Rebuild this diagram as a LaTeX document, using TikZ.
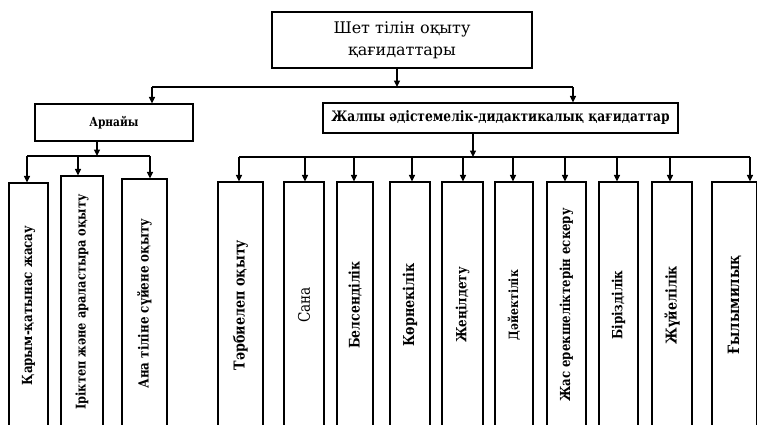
\documentclass[tikz,border=0pt]{standalone}
\usepackage{fontspec}
\usepackage{graphicx}
\setmainfont{DejaVu Serif}
\newfontfamily\condfont[FakeStretch=0.85]{DejaVu Serif}
\usetikzlibrary{arrows.meta}
\tikzset{
  nd_top/.style={
    rectangle, draw, line width=1.1pt,
    minimum width=260pt, minimum height=56pt,
    align=center, font=\fontsize{16}{22}\selectfont},
  nd_grp/.style={
    rectangle, draw, line width=1.1pt, inner sep=0pt},
  nd_col/.style={
    rectangle, draw, line width=1.1pt, inner sep=0pt,
    minimum height=246pt},
  fsz/.style={font=\condfont\bfseries\fontsize{#1}{#1}\selectfont},
  arr/.style={-{Triangle[length=6.5pt,width=6pt]},line width=1.1pt},
  bus/.style={line width=1.1pt},
}

\begin{document}
\begin{tikzpicture}[x=1pt,y=-1pt]
\useasboundingbox (0,0) rectangle (757,424);

\node[nd_top] at (402,40) (T){Шет тілін оқыту\\қағидаттары};
\node[nd_grp,fsz=12.5,minimum width=158pt,minimum height=37pt] at (114,122.5) (A){Арнайы};
\node[nd_grp,fsz=14.4,minimum width=355pt,minimum height=30pt] at (500.5,118) (G){Жалпы әдістемелік-дидактикалық қағидаттар};

%% junctions
\coordinate (jT) at (397,87);
\coordinate (jA) at (152,87);
\coordinate (jG) at (573,87);
\coordinate (jL) at (97,156);
\coordinate (jR) at (473,157);

%% left column
\node[nd_col,fsz=13.9,minimum width=39pt,minimum height=245pt] at (28.5,305.5) (l1){\rotatebox{90}{Қарым-қатынас жасау}};
\node[nd_col,fsz=13.4,minimum width=42pt,minimum height=252pt] at (82,302)    (l2){\rotatebox{90}{Іріктеп және араластыра оқыту}};
\node[nd_col,fsz=14,minimum width=45pt,minimum height=249pt] at (144.5,303.5)  (l3){\rotatebox{90}{Ана тіліне сүйене оқыту}};

%% right column
\node[nd_col,fsz=15,minimum width=45pt] at (240.5,305) (r1){\rotatebox{90}{Тәрбиелеп оқыту}};
\node[nd_col,font=\condfont\fontsize{16}{16}\selectfont,minimum width=40pt] at (304,305) (r2){\rotatebox{90}{Сана}};
\node[nd_col,fsz=14.6,minimum width=36pt] at (355,305)   (r3){\rotatebox{90}{Белсенділік}};
\node[nd_col,fsz=15,minimum width=40pt] at (410,305)     (r4){\rotatebox{90}{Көрнекілік}};
\node[nd_col,fsz=14,minimum width=41pt] at (462.5,305)   (r5){\rotatebox{90}{Жеңілдету}};
\node[nd_col,fsz=12.8,minimum width=38pt] at (514,305)   (r6){\rotatebox{90}{Дәйектілік}};
\node[nd_col,fsz=13.8,minimum width=39pt] at (566.5,305) (r7){\rotatebox{90}{Жас ерекшеліктерін ескеру}};
\node[nd_col,fsz=14,minimum width=39pt] at (618.5,305)   (r8){\rotatebox{90}{Бірізділік}};
\node[nd_col,fsz=14.9,minimum width=40pt] at (672,305)   (r9){\rotatebox{90}{Жүйелілік}};
\node[nd_col,fsz=15.6,minimum width=45pt] at (734.5,305) (r10){\rotatebox{90}{Ғылымилық}};

%% top level
\draw[arr] (T.south -| jT)--(jT);
\draw[bus] (jA)--(jG);
\draw[arr] (jA)--(jA |- A.north);
\draw[arr] (jG)--(jG |- G.north);

%% Arnaiy
\draw[arr] (A.south -| jL)--(jL);
\foreach \n/\dx in {l1/-1.5,l2/-4,l3/5.5}
  {\path ([xshift=\dx pt]\n.north) coordinate (t\n);
   \draw[arr] (t\n |- jL)--(t\n);}
\draw[bus] (tl1 |- jL)--(tl3 |- jL);

%% Zhalpy
\draw[arr] (G.south -| jR)--(jR);
\foreach \n/\dx in {r1/-1.5,r2/1,r3/-1,r4/2,r5/0.5,r6/-1,r7/-1.5,r8/-1.5,r9/-2,r10/15.5}
  {\path ([xshift=\dx pt]\n.north) coordinate (t\n);
   \draw[arr] (t\n |- jR)--(t\n);}
\draw[bus] (tr1 |- jR)--(tr10 |- jR);

\end{tikzpicture}
\end{document}
